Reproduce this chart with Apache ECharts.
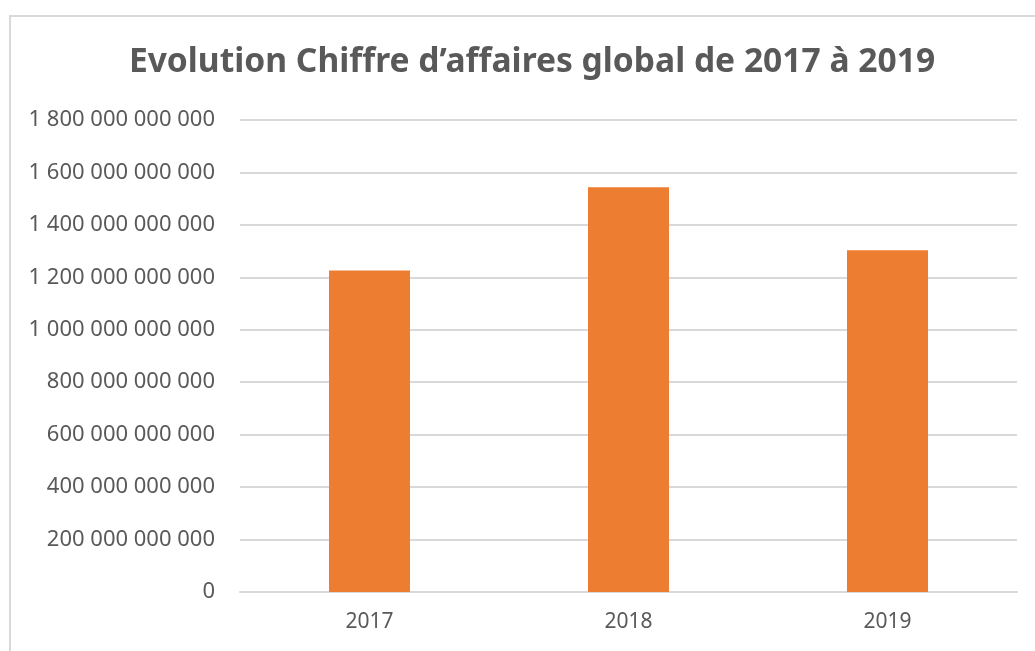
<!DOCTYPE html>
<html>
<head>
<meta charset="utf-8">
<script src="https://cdn.jsdelivr.net/npm/echarts@6/dist/echarts.min.js"></script>
<style>
  html, body { margin: 0; padding: 0; background: #fff; overflow: hidden; }
  #frame {
    position: absolute; left: 9px; top: 15px; width: 1100px; height: 700px;
    border: 2px solid #d9d9d9; box-sizing: border-box;
  }
  #chart { position: absolute; left: 0; top: 0; width: 1035px; height: 651px; }
</style>
</head>
<body>
<div id="frame"></div>
<div id="chart"></div>
<script>
// Chiffre d'affaires global par année
const years = ['2017', '2018', '2019'];
const revenue = [1226e9, 1544e9, 1303e9];
const yTicks = { min: 0, max: 1800e9, step: 200e9 };

const TEXT = '#595959';
const GRID = '#d9d9d9';
const BAR = '#ed7d31';

/** 1800000000000 -> "1 800 000 000 000" */
function spaced(v) {
  return String(Math.round(v)).replace(/\B(?=(\d{3})+(?!\d))/g, ' ');
}

const chart = echarts.init(document.getElementById('chart'), null, { renderer: 'canvas' });
chart.setOption({
  animation: false,
  title: {
    text: 'Evolution Chiffre d\u2019affaires global de 2017 \u00e0 2019',
    left: 527, top: 40, textAlign: 'center',
    textStyle: { color: TEXT, fontFamily: 'Noto Sans', fontWeight: 'bold', fontSize: 33.6 }
  },
  grid: { left: 240, right: 18, top: 120, bottom: 59 },
  xAxis: {
    type: 'category',
    data: years,
    axisLine: { lineStyle: { color: GRID, width: 2 } },
    axisTick: { show: false },
    axisLabel: { color: TEXT, fontFamily: 'Noto Sans', fontSize: 21, margin: 20 }
  },
  yAxis: {
    type: 'value',
    min: yTicks.min, max: yTicks.max, interval: yTicks.step,
    axisLine: { show: false },
    axisTick: { show: false },
    axisLabel: { color: TEXT, fontFamily: 'Noto Sans', fontSize: 22, margin: 25, formatter: spaced },
    splitLine: { lineStyle: { color: GRID, width: 2 } }
  },
  series: [{
    type: 'bar',
    data: revenue,
    barWidth: 81,
    itemStyle: { color: BAR }
  }]
});
</script>
</body>
</html>
